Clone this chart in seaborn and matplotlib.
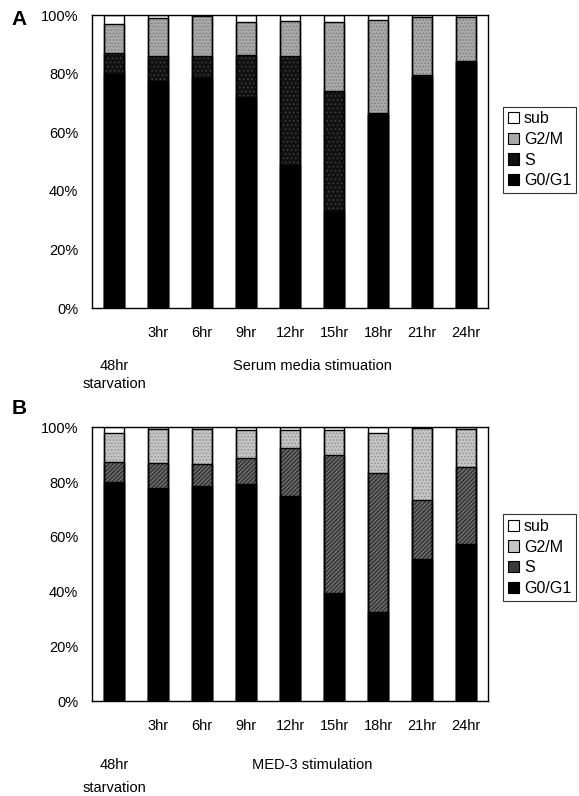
import pandas as pd
import matplotlib.pyplot as plt
import seaborn as sns
from matplotlib.patches import Patch

sns.set_theme(style='white')
plt.rcParams['font.family'] = ['Liberation Sans', 'DejaVu Sans']
plt.rcParams['hatch.linewidth'] = 0.6
plt.rcParams['text.color'] = 'black'
plt.rcParams['xtick.color'] = 'black'
plt.rcParams['ytick.color'] = 'black'

# data (% of cells in each phase)
times = ['48hr', '3hr', '6hr', '9hr', '12hr', '15hr', '18hr', '21hr', '24hr']
tick_labels = ['', '3hr', '6hr', '9hr', '12hr', '15hr', '18hr', '21hr', '24hr']
phases = ['sub', 'G2/M', 'S', 'G0/G1']

a_g0 = [80, 77.5, 78.5, 72, 49, 33, 66, 79, 84]
a_s = [7, 8.5, 7.5, 14.5, 37, 41, 0.5, 0.5, 0.3]
a_g2m = [10, 13, 13.8, 11, 12, 23.5, 32, 20, 15]
a_sub = [3, 1, 0.2, 2.5, 2, 2.5, 1.5, 0.5, 0.7]

b_g0 = [80, 78, 78.5, 79.5, 75, 39.5, 32.5, 52, 57.5]
b_s = [7.5, 9, 8, 9.5, 17.5, 50.5, 51, 21.5, 28]
b_g2m = [10.5, 12.5, 13, 10, 6.5, 9, 14.5, 26.3, 14]
b_sub = [2, 0.5, 0.5, 1, 1, 1, 2, 0.2, 0.5]

xlabel_a = 'Serum media stimuation'
xlabel_b = 'MED-3 stimulation'

# fill colour, hatch colour, hatch pattern per phase
style_a = {'sub': ('white', 'white', None),
           'G2/M': ('#a9a9a9', '#7a7a7a', '.....'),
           'S': ('#111111', '#444444', '....'),
           'G0/G1': ('black', 'black', None)}
style_b = {'sub': ('white', 'white', None),
           'G2/M': ('#c4c4c4', '#8c8c8c', '.....'),
           'S': ('#3a3a3a', '#8a8a8a', '////////'),
           'G0/G1': ('black', 'black', None)}


def draw_panel(ax, g0, s, g2m, sub, style, xlabel, lab_off, lab_off2):
    df = pd.DataFrame({'time': times, 'G0/G1': g0, 'S': s, 'G2/M': g2m, 'sub': sub})
    df['cum_G0/G1'] = df['G0/G1']
    df['cum_S'] = df['cum_G0/G1'] + df['S']
    df['cum_G2/M'] = df['cum_S'] + df['G2/M']
    df['cum_sub'] = df['cum_G2/M'] + df['sub']

    # stacked bars: draw cumulative totals back to front
    for ph in phases:
        fc, hc, hatch = style[ph]
        sns.barplot(data=df, x='time', y='cum_' + ph, order=times, color=fc,
                    edgecolor=hc, linewidth=0, hatch=hatch, width=0.45,
                    errorbar=None, saturation=1, ax=ax)
    for ph in phases:
        sns.barplot(data=df, x='time', y='cum_' + ph, order=times, color='black',
                    fill=False, linewidth=1.0, width=0.45, errorbar=None, ax=ax)

    ax.set_ylim(0, 100)
    ax.set_yticks([0, 20, 40, 60, 80, 100])
    ax.set_yticklabels([f'{v}%' for v in range(0, 101, 20)])
    ax.set_xticks(range(len(times)))
    ax.set_xticklabels(tick_labels)
    ax.set_xlabel('')
    ax.set_ylabel('')
    ax.tick_params(axis='x', length=0, pad=13, labelsize=10.5)
    ax.tick_params(axis='y', length=0, pad=10, labelsize=10.5)
    for sp in ax.spines.values():
        sp.set_color('black')
        sp.set_linewidth(1.0)

    tr = ax.get_xaxis_transform()
    ax.annotate('48hr', xy=(0, 0), xycoords=tr, xytext=(0, -lab_off),
                textcoords='offset pixels', ha='center', va='center', fontsize=10.5)
    ax.annotate('starvation', xy=(0, 0), xycoords=tr, xytext=(0, -lab_off2),
                textcoords='offset pixels', ha='center', va='center', fontsize=10.5)
    ax.annotate(xlabel, xy=(4.5, 0), xycoords=tr, xytext=(0, -lab_off),
                textcoords='offset pixels', ha='center', va='center', fontsize=10.5)

    handles = [Patch(facecolor=style[ph][0], edgecolor='black', hatch=None, linewidth=0.8)
               for ph in phases]
    return handles


fig = plt.figure(figsize=(5.79, 7.96), dpi=100)
ax1 = fig.add_axes([0.159, 0.613, 0.684, 0.368])
ax2 = fig.add_axes([0.159, 0.119, 0.684, 0.344])

h1 = draw_panel(ax1, a_g0, a_s, a_g2m, a_sub, style_a, xlabel_a, 58, 76)
h2 = draw_panel(ax2, b_g0, b_s, b_g2m, b_sub, style_b, xlabel_b, 64, 87)

for ax, h, top in [(ax1, h1, 0.866), (ax2, h2, 0.354)]:
    leg = ax.legend(h, phases, loc='upper left', bbox_to_anchor=(0.869, top),
                    bbox_transform=fig.transFigure, fontsize=11.5, frameon=True,
                    fancybox=False, handlelength=0.7, handleheight=0.7,
                    handletextpad=0.3, borderpad=0.3, labelspacing=0.35,
                    borderaxespad=0)
    leg.get_frame().set_edgecolor('black')
    leg.get_frame().set_linewidth(0.8)
    for t in leg.get_texts():
        t.set_color('black')

fig.text(0.033, 0.975, 'A', fontsize=15, fontweight='bold', ha='center', va='center')
fig.text(0.033, 0.487, 'B', fontsize=15, fontweight='bold', ha='center', va='center')

plt.savefig('out.png', dpi=100)
